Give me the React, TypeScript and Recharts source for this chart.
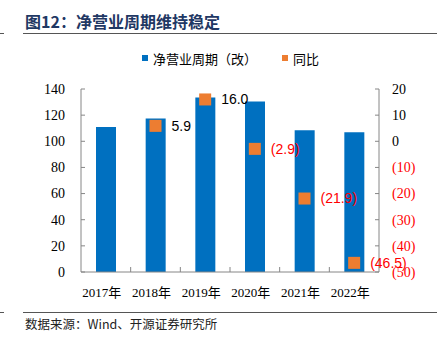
import React from 'react';
import { ComposedChart, Bar, Line, XAxis, YAxis, LabelList, Legend } from 'recharts';

const years = ['2017年', '2018年', '2019年', '2020年', '2021年', '2022年'];
const netCycle = [111, 117.5, 133.5, 130.5, 108.5, 107];
const yoyGrowth: (number | null)[] = [null, 5.9, 16.0, -2.9, -21.9, -46.5];
const leftTicks = [0, 20, 40, 60, 80, 100, 120, 140];
const rightTicks = [-50, -40, -30, -20, -10, 0, 10, 20];
const seriesNames = ['净营业周期（改）', '同比'];
const titleText = '图12：净营业周期维持稳定';
const sourceText = '数据来源：Wind、开源证券研究所';

const BLUE = '#0070C0';
const ORANGE = '#ED7D31';
const RED = '#FF0000';
const AXIS = '#868686';
const SERIF = '"Liberation Serif", "Times New Roman", "Noto Sans CJK SC", serif';
const SANS = '"Liberation Sans", Arial, sans-serif';
const CJK = '"Noto Sans CJK SC", sans-serif';

const data = years.map((y, i) => ({ year: y, cycle: netCycle[i], yoy: yoyGrowth[i] }));

const fmtTick = (v: number) => (v < 0 ? `(${Math.abs(v)})` : `${v}`);
const fmtLabel = (v: number) => (v < 0 ? `(${Math.abs(v).toFixed(1)})` : v.toFixed(1));

const LeftTick = (props: any) => {
  const { x, y, payload } = props;
  return (
    <text x={x} y={y} dy="0.35em" textAnchor="end" fontFamily={SERIF} fontSize={14} fill="#000">
      {fmtTick(payload.value)}
    </text>
  );
};

const RightTick = (props: any) => {
  const { x, y, payload } = props;
  return (
    <text x={x} y={y} dy="0.35em" textAnchor="start" fontFamily={SERIF} fontSize={14} fill={payload.value < 0 ? RED : '#000'}>
      {fmtTick(payload.value)}
    </text>
  );
};

const XTick = (props: any) => {
  const { x, y, payload, index, width, visibleTicksCount } = props;
  const half = payload && payload.offset ? payload.offset : width && visibleTicksCount ? width / visibleTicksCount / 2 : 0;
  const axisY = y - 16;
  return (
    <g>
      {index > 0 && half > 0 ? (
        <line x1={x - half} x2={x - half} y1={axisY} y2={axisY - 5} stroke={AXIS} strokeWidth={1} />
      ) : null}
      <text x={x - 4} y={y} dy="0.71em" textAnchor="middle" fontFamily={SERIF} fontSize={13} fill="#000">
        {payload.value}
      </text>
    </g>
  );
};

const SquareDot = (props: any) => {
  const { cx, cy, value, index } = props;
  if (value === null || value === undefined || cy === null || cy === undefined || isNaN(cy)) {
    return <g key={`d-${index}`} />;
  }
  return <rect key={`d-${index}`} x={cx - 6} y={cy - 6} width={12} height={12} fill={ORANGE} />;
};

const renderLabel = (props: any) => {
  const { x, y, value, index } = props;
  if (value === null || value === undefined) return <g key={`l-${index}`} />;
  return (
    <text key={`l-${index}`} x={x + 16} y={y} dy="0.35em" textAnchor="start" fontFamily={SANS} fontSize={14} fill={value < 0 ? RED : '#000'}>
      {fmtLabel(value)}
    </text>
  );
};

const renderLegend = () => (
  <div style={{ position: 'relative', height: 20, fontFamily: CJK, fontSize: 13, color: '#000' }}>
    <div style={{ position: 'absolute', left: 142, top: 0, display: 'flex', alignItems: 'center', height: 20 }}>
      <span style={{ width: 6, height: 6, background: BLUE, display: 'inline-block', marginRight: 5 }} />
      <span>{seriesNames[0]}</span>
      <span style={{ width: 6, height: 6, background: ORANGE, display: 'inline-block', marginLeft: 25, marginRight: 5 }} />
      <span>{seriesNames[1]}</span>
    </div>
  </div>
);

export default function App() {
  return (
    <div style={{ position: 'absolute', left: 0, top: 0, width: 437, height: 346, background: '#fff', overflow: 'hidden' }}>
      <div style={{ position: 'absolute', left: 25, top: 10, fontFamily: CJK, fontWeight: 700, fontSize: 16, color: '#1F3864', whiteSpace: 'nowrap', lineHeight: '22px' }}>
        {titleText}
      </div>
      <div style={{ position: 'absolute', left: 0, top: 33, width: 4, height: 1, background: '#555' }} />
      <div style={{ position: 'absolute', left: 23, top: 33, width: 414, height: 1, background: '#555' }} />
      <ComposedChart width={437} height={346} data={data} margin={{ top: 69, right: 0, bottom: 44, left: 21 }}>
        <XAxis dataKey="year" height={30} axisLine={{ stroke: AXIS }} tickLine={false} tickSize={0} tickMargin={16} tick={<XTick />} interval={0} />
        <YAxis yAxisId="left" orientation="left" width={60} domain={[0, 140]} ticks={leftTicks} interval={0} axisLine={{ stroke: AXIS }} tickLine={{ stroke: AXIS }} tickSize={-4} tickMargin={20} tick={<LeftTick />} />
        <YAxis yAxisId="right" orientation="right" width={58} domain={[-50, 20]} ticks={rightTicks} interval={0} axisLine={{ stroke: AXIS }} tickLine={{ stroke: AXIS }} tickSize={-4} tickMargin={17} tick={<RightTick />} />
        <Legend verticalAlign="top" height={20} content={renderLegend} wrapperStyle={{ position: 'absolute', top: 48, left: 0, width: 437 }} />
        <Bar yAxisId="left" dataKey="cycle" name={seriesNames[0]} fill={BLUE} barSize={20} isAnimationActive={false} />
        <Line yAxisId="right" dataKey="yoy" name={seriesNames[1]} stroke="none" strokeWidth={0} dot={SquareDot} activeDot={false} isAnimationActive={false} connectNulls={false}>
          <LabelList dataKey="yoy" content={renderLabel} />
        </Line>
      </ComposedChart>
      <div style={{ position: 'absolute', left: 0, top: 312, width: 4, height: 1, background: '#555' }} />
      <div style={{ position: 'absolute', left: 23, top: 312, width: 414, height: 1, background: '#555' }} />
      <div style={{ position: 'absolute', left: 25, top: 315, fontFamily: CJK, fontSize: 12.5, color: '#222', whiteSpace: 'nowrap', lineHeight: '18px' }}>
        {sourceText}
      </div>
    </div>
  );
}
